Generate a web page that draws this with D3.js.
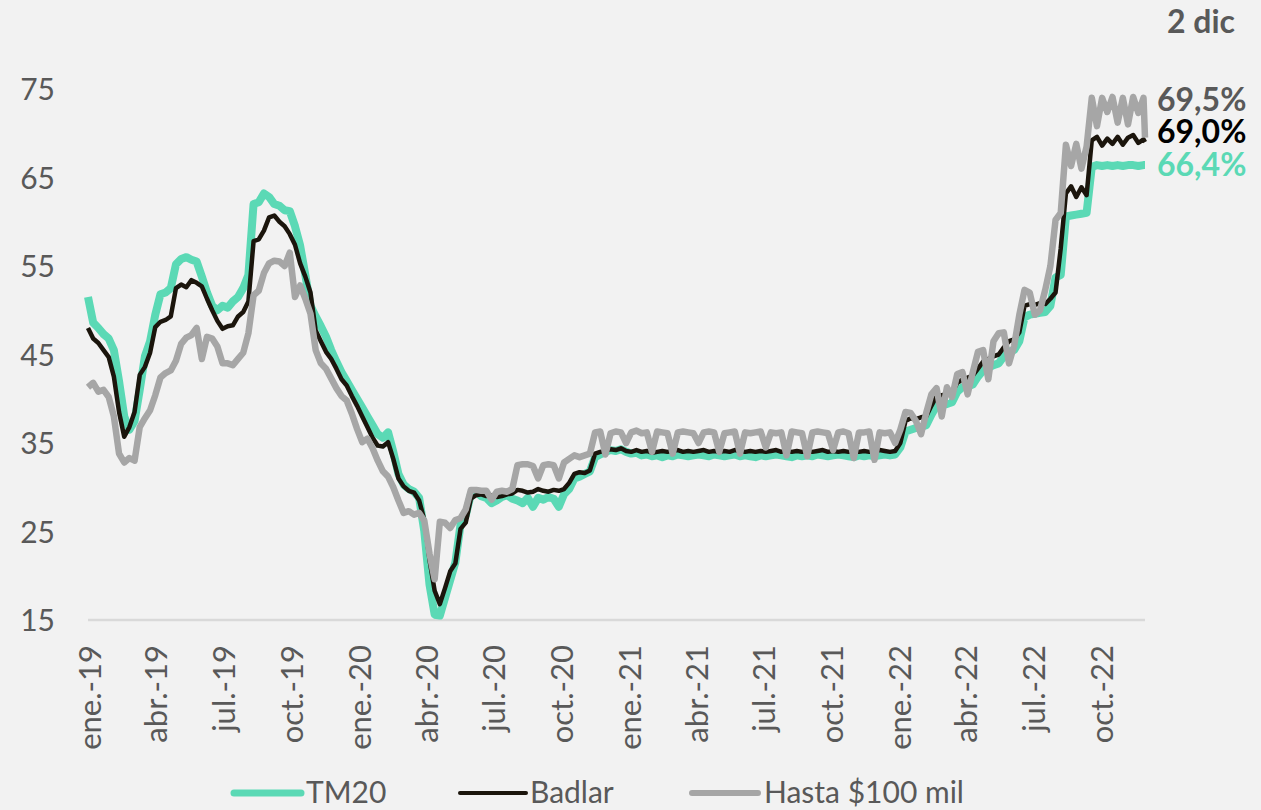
<!DOCTYPE html>
<html lang="es">
<head>
<meta charset="utf-8">
<title>Tasas de plazo fijo</title>
<script src="https://cdn.jsdelivr.net/npm/d3@7"></script>
<style>
  html, body { margin: 0; padding: 0; background: #f2f2f2; }
  svg { display: block; background: #f2f2f2; font-family: Lato, "Open Sans", sans-serif; }
</style>
</head>
<body>
<svg id="chart" width="1261" height="810"></svg>
<script>
// Weekly observations from 2 Jan 2019; the last value is the 2 Dec 2022 close.
const firstDate = new Date(2019, 0, 2);
const lastDate = new Date(2022, 11, 2);

const tm20 = [
  51.5, 48.6, 48.0, 47.3, 46.8, 45.5, 42.0, 38.0, 36.5, 37.5,
  41.0, 44.8, 46.5, 49.5, 51.8, 52.0, 52.5, 55.2, 55.8, 56.0,
  55.7, 55.5, 53.8, 52.0, 50.5, 50.0, 50.5, 50.3, 51.0, 51.5,
  52.5, 54.0, 62.0, 62.2, 63.2, 62.8, 62.0, 61.8, 61.3, 61.2,
  59.5, 57.3, 54.0, 50.5, 49.3, 48.2, 47.0, 45.5, 44.2, 43.0,
  42.0, 41.0, 40.0, 39.0, 38.0, 37.0, 36.0, 35.6, 36.2, 34.0,
  31.5, 30.3, 29.8, 29.5, 28.8, 25.0, 19.0, 15.6, 15.5, 17.5,
  19.5, 21.5, 25.8, 26.8, 29.2, 29.5, 29.0, 28.8, 28.2, 28.5,
  28.9, 29.1, 28.7, 28.5, 28.2, 28.8, 27.8, 28.8, 28.6, 28.9,
  28.7, 27.8, 29.2, 29.8, 31.0, 31.2, 31.5, 31.8, 33.4, 33.7,
  34.0, 34.2, 34.1, 34.3, 34.0, 33.8, 33.9, 33.6, 33.7, 33.5,
  33.6, 33.4, 33.6, 33.5, 33.7, 33.6, 33.5, 33.6, 33.7, 33.6,
  33.5, 33.7, 33.6, 33.5, 33.6, 33.7, 33.5, 33.6, 33.5, 33.4,
  33.6, 33.5, 33.6, 33.7, 33.6, 33.5, 33.4, 33.6, 33.5, 33.6,
  33.5, 33.7, 33.6, 33.5, 33.6, 33.7, 33.6, 33.5, 33.4, 33.6,
  33.5, 33.6, 33.5, 33.6, 33.7, 33.6, 33.7, 34.5, 36.3, 36.5,
  36.7, 36.8, 37.0, 38.2, 39.2, 39.3, 39.4, 39.6, 40.8, 41.3,
  41.4, 41.6, 42.5, 43.2, 43.5, 43.8, 44.0, 44.8, 45.3, 45.5,
  46.5, 49.2, 49.5, 49.6, 49.7, 49.8, 50.5, 53.7, 54.0, 60.6,
  60.7, 60.8, 60.9, 61.0, 66.2, 66.4, 66.3, 66.4, 66.3, 66.4,
  66.3, 66.4, 66.4, 66.3, 66.4, 66.4
];

const badlar = [
  48.0, 46.8, 46.3, 45.5, 44.7, 42.5, 38.5, 35.7, 36.8, 38.5,
  42.7, 43.6, 45.2, 48.1, 48.7, 48.9, 49.3, 52.5, 52.9, 52.6,
  53.4, 53.1, 52.7, 51.3, 50.0, 48.8, 47.9, 48.2, 48.3, 49.3,
  49.8, 51.0, 57.8, 58.0, 59.0, 60.5, 60.7, 60.0, 59.5, 58.6,
  57.4, 55.3, 53.8, 52.0, 47.7, 46.5, 45.3, 44.5, 43.4, 42.2,
  41.5, 40.3, 39.2, 38.0, 36.8, 35.6, 34.7, 34.6, 35.1, 33.2,
  31.0, 30.1, 29.6, 29.4, 28.5, 26.3, 21.8, 18.3, 16.8, 18.6,
  20.5, 21.4, 25.3, 26.0, 28.7, 29.1, 29.2, 29.0, 29.1, 28.9,
  29.0, 29.2, 29.3, 29.7, 29.6, 29.4, 29.5, 29.8, 29.6, 29.5,
  29.7, 29.6, 29.8, 30.5, 31.5, 31.7, 31.6, 31.9, 33.8, 34.0,
  34.1, 34.3, 34.2, 34.4, 34.1, 34.0, 34.2, 34.0, 34.1, 33.9,
  34.0, 34.1, 34.0, 34.1, 34.2, 34.0, 34.1, 34.0, 34.1, 34.2,
  34.0, 34.1, 34.0, 34.1, 34.0, 34.2, 34.1, 34.0, 34.1, 34.0,
  34.1, 34.0, 34.1, 34.2, 34.0, 34.1, 34.0, 34.1, 34.0, 34.1,
  34.0, 34.1, 34.2, 34.0, 34.1, 34.0, 34.1, 34.0, 34.1, 34.0,
  34.1, 34.0, 34.1, 34.2, 34.1, 34.0, 34.1, 35.0, 37.5, 37.8,
  37.7, 37.9, 38.0, 39.2, 40.3, 40.4, 40.5, 40.7, 41.8, 42.2,
  42.4, 42.6, 43.4, 44.2, 44.5, 44.8, 45.0, 45.8, 46.5, 46.7,
  47.5, 50.5, 50.7, 50.6, 50.8, 50.7, 51.3, 52.0, 57.0, 63.2,
  64.0, 62.8, 63.9, 63.0, 69.2, 69.6, 68.6, 69.4, 68.8, 69.6,
  68.7, 69.5, 69.8, 68.9, 69.3, 69.0
];

const hasta100 = [
  41.3, 41.8, 40.8, 41.0, 40.2, 38.0, 33.8, 32.8, 33.3, 33.0,
  36.8, 37.8, 38.7, 40.4, 42.4, 42.9, 43.2, 44.3, 46.2, 46.9,
  47.2, 48.0, 44.5, 47.0, 46.8, 45.9, 44.0, 44.0, 43.8, 44.5,
  45.2, 47.4, 51.7, 52.2, 54.2, 55.3, 55.6, 55.5, 55.0, 56.5,
  51.5, 52.8, 51.3, 49.6, 45.5, 44.0, 43.4, 42.3, 41.2, 40.3,
  39.8, 38.3, 36.6, 35.1, 35.5, 34.4, 33.0, 31.8, 31.2, 30.0,
  28.5, 27.1, 27.3, 26.9, 27.1, 26.2, 22.5, 19.6, 26.1, 26.0,
  25.4, 26.3, 26.5, 27.5, 29.7, 29.7, 29.6, 29.6, 28.6, 29.5,
  29.6, 29.5, 29.8, 32.5, 32.6, 32.6, 32.4, 31.0, 32.5, 32.6,
  32.5, 31.0, 32.8, 33.2, 33.6, 33.4, 33.6, 33.8, 36.2, 36.3,
  33.7, 36.1, 36.3, 36.2, 35.0, 36.2, 36.4, 36.1, 36.2, 34.0,
  36.3, 36.2, 36.1, 33.8, 36.2, 36.3, 36.2, 36.1, 35.0, 36.2,
  36.3, 36.2, 34.0, 36.1, 36.2, 36.3, 33.8, 36.2, 36.1, 36.2,
  36.3, 34.5, 36.2, 36.1, 36.2, 33.6, 36.3, 36.2, 36.1, 33.5,
  36.2, 36.3, 36.2, 36.1, 34.2, 36.2, 36.3, 36.1, 33.3, 36.2,
  36.2, 36.3, 33.1, 36.2, 36.1, 36.2, 35.0, 36.5, 38.5, 38.4,
  37.5, 36.0, 38.4, 40.5, 41.2, 38.0, 41.3, 40.2, 42.8, 43.0,
  40.5, 43.0, 45.3, 45.5, 42.2, 46.5, 47.4, 47.5, 44.0, 46.0,
  49.5, 52.3, 52.0, 49.5, 50.0, 52.3, 55.0, 60.2, 61.0, 68.7,
  66.3, 68.8, 66.0, 68.5, 74.0, 70.8, 74.0, 72.4, 74.1, 71.2,
  74.0, 71.0, 74.1, 72.3, 74.0, 69.5
];

const yTicks = [15, 25, 35, 45, 55, 65, 75];
const xTickLabels = [
  "ene.-19", "abr.-19", "jul.-19", "oct.-19",
  "ene.-20", "abr.-20", "jul.-20", "oct.-20",
  "ene.-21", "abr.-21", "jul.-21", "oct.-21",
  "ene.-22", "abr.-22", "jul.-22", "oct.-22"
];
const seriesNames = ["TM20", "Badlar", "Hasta $100 mil"];
const lastLabels = ["69,5%", "69,0%", "66,4%"];
const dateLabel = "2 dic";

const colors = { tm20: "#5bd9b5", badlar: "#1b150c", hasta: "#a6a6a6", text: "#595959", axis: "#d9d9d9" };

const dates = tm20.map((_, i) => i === tm20.length - 1 ? lastDate : d3.timeDay.offset(firstDate, 7 * i));
const tickDates = d3.timeMonth.range(new Date(2019, 0, 1), new Date(2022, 10, 1), 3);

const svg = d3.select("#chart");

const x = d3.scaleTime().domain([firstDate, lastDate]).range([88, 1145]);
const y = d3.scaleLinear().domain([15, 75]).range([620, 89]);

// Y axis: labels only
const yAxis = d3.axisLeft(y).tickValues(yTicks).tickSize(0).tickPadding(0).tickFormat(d3.format("d"));
svg.append("g")
  .attr("transform", "translate(55,0)")
  .call(yAxis)
  .call(g => g.select(".domain").remove())
  .selectAll("text")
  .attr("fill", colors.text)
  .attr("font-size", 30)
  .attr("font-family", "Lato, 'Open Sans', sans-serif")
  .attr("dy", "0.36em");

// X axis with rotated quarterly labels
const xAxis = d3.axisBottom(x)
  .tickValues(tickDates)
  .tickSize(0)
  .tickFormat((d, i) => xTickLabels[i]);
const gx = svg.append("g").attr("transform", "translate(0,620)").call(xAxis);
gx.select(".domain").remove();
gx.selectAll("text")
  .attr("fill", colors.text)
  .attr("font-size", 31)
  .attr("font-family", "Lato, 'Open Sans', sans-serif")
  .attr("transform", "rotate(-90)")
  .attr("x", -25)
  .attr("y", 0)
  .attr("dy", "0.42em")
  .style("text-anchor", "end");

svg.append("line")
  .attr("x1", x.range()[0]).attr("x2", x.range()[1])
  .attr("y1", y(15)).attr("y2", y(15))
  .attr("stroke", colors.axis)
  .attr("stroke-width", 2.5);

// Series lines
const line = d3.line()
  .x((d, i) => x(dates[i]))
  .y(d => y(d));

const series = [
  { values: tm20, color: colors.tm20, width: 8 },
  { values: badlar, color: colors.badlar, width: 4.5 },
  { values: hasta100, color: colors.hasta, width: 6.5 }
];

svg.append("g").selectAll("path")
  .data(series)
  .join("path")
  .attr("d", s => line(s.values))
  .attr("fill", "none")
  .attr("stroke", s => s.color)
  .attr("stroke-width", s => s.width)
  .attr("stroke-linejoin", "round");

// Latest values
const endLabels = [
  { text: lastLabels[0], color: colors.text, y: 111 },
  { text: lastLabels[1], color: "#000000", y: 143 },
  { text: lastLabels[2], color: colors.tm20, y: 176 }
];
svg.append("g").selectAll("text")
  .data(endLabels)
  .join("text")
  .attr("x", 1157)
  .attr("y", d => d.y)
  .attr("fill", d => d.color)
  .attr("font-size", 32)
  .attr("font-weight", 700)
  .text(d => d.text);

svg.append("text")
  .attr("x", 1235)
  .attr("y", 33)
  .attr("text-anchor", "end")
  .attr("fill", colors.text)
  .attr("font-size", 32)
  .attr("font-weight", 700)
  .text(dateLabel);

// Legend
const legendItems = [
  { name: seriesNames[0], color: colors.tm20, width: 7, x1: 234, x2: 301, tx: 306 },
  { name: seriesNames[1], color: colors.badlar, width: 4, x1: 460, x2: 526, tx: 530 },
  { name: seriesNames[2], color: colors.hasta, width: 6, x1: 692, x2: 758, tx: 764 }
];
const lg = svg.append("g").selectAll("g").data(legendItems).join("g");
lg.append("line")
  .attr("x1", d => d.x1).attr("x2", d => d.x2)
  .attr("y1", 793).attr("y2", 793)
  .attr("stroke", d => d.color)
  .attr("stroke-width", d => d.width)
  .attr("stroke-linecap", "round");
lg.append("text")
  .attr("x", d => d.tx)
  .attr("y", 803)
  .attr("fill", colors.text)
  .attr("font-size", 30)
  .text(d => d.name);
</script>
</body>
</html>
